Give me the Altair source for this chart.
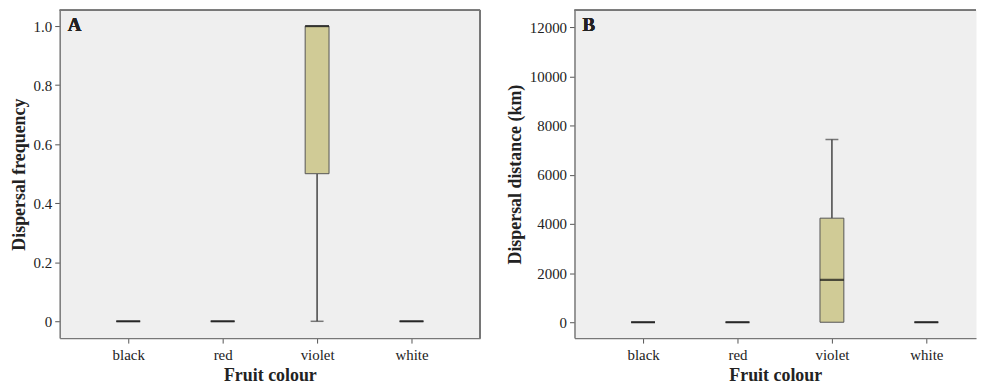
import altair as alt
import pandas as pd

categories = ["black", "red", "violet", "white"]

# Panel A: dispersal frequency
freq_lower = [0, 0, 0.0, 0]
freq_q1 = [0, 0, 0.5, 0]
freq_median = [0, 0, 1.0, 0]
freq_q3 = [0, 0, 1.0, 0]
freq_upper = [0, 0, 1.0, 0]

# Panel B: dispersal distance (km)
dist_lower = [0, 0, 0, 0]
dist_q1 = [0, 0, 0, 0]
dist_median = [0, 0, 1720, 0]
dist_q3 = [0, 0, 4230, 0]
dist_upper = [0, 0, 7430, 0]

freq_ticks = [0, 0.2, 0.4, 0.6, 0.8, 1.0]
dist_ticks = [0, 2000, 4000, 6000, 8000, 10000, 12000]

FONT = "Liberation Serif"
BOX_FILL = "#D0CB96"
BORDER = "#777777"


def panel(lower, q1, med, q3, upper, domain, ticks, ytitle, label_expr,
          letter, width, pad, align, right_border):
    df = pd.DataFrame({"cat": categories, "lower": lower, "q1": q1,
                       "median": med, "q3": q3, "upper": upper})
    x = alt.X("cat:N", sort=categories, title="Fruit colour",
              scale=alt.Scale(type="point", padding=pad, align=align),
              axis=alt.Axis(labelAngle=0))
    yscale = alt.Scale(domain=domain, nice=False, zero=False)
    base = alt.Chart(df)

    lo = df[df["lower"] < df["q1"]]
    hi = df[df["upper"] > df["q3"]]
    caps = pd.concat([
        pd.DataFrame({"cat": lo["cat"], "v": lo["lower"]}),
        pd.DataFrame({"cat": hi["cat"], "v": hi["upper"]}),
    ])

    whisk_lo = base.mark_rule(color="#444444", strokeWidth=1.5).encode(
        x=x,
        y=alt.Y("lower:Q", scale=yscale, title=ytitle,
                axis=alt.Axis(values=ticks, labelExpr=label_expr)),
        y2="q1:Q")
    whisk_hi = base.mark_rule(color="#444444", strokeWidth=1.5).encode(
        x=x, y=alt.Y("q3:Q", scale=yscale), y2="upper:Q")
    cap = alt.Chart(caps).mark_tick(color="#444444", size=13, thickness=1.5,
                                    orient="horizontal").encode(
        x=x, y=alt.Y("v:Q", scale=yscale))
    box = base.mark_bar(size=24, fill=BOX_FILL, stroke="#555555",
                        strokeWidth=1).encode(
        x=x, y=alt.Y("q1:Q", scale=yscale), y2="q3:Q")
    median = base.mark_tick(color="#111111", size=24, thickness=2.2,
                            orient="horizontal").encode(
        x=x, y=alt.Y("median:Q", scale=yscale))
    text = base.mark_text(text=letter, font=FONT, fontSize=19,
                          fontWeight="bold", align="left", baseline="middle",
                          color="#222222").encode(
        x=alt.value(8), y=alt.value(15))
    top = base.mark_rule(color=BORDER, strokeWidth=1.5).encode(
        x=alt.value(0), x2=alt.value(width), y=alt.value(0))
    layers = [whisk_lo, whisk_hi, cap, box, median, text, top]
    if right_border:
        layers.append(base.mark_rule(color=BORDER, strokeWidth=1.5).encode(
            x=alt.value(width), y=alt.value(0), y2=alt.value(330)))
    return alt.layer(*layers).properties(
        width=width, height=330,
        view=alt.ViewBackground(fill="#EFEFEF", strokeOpacity=0))


left = panel(freq_lower, freq_q1, freq_median, freq_q3, freq_upper,
             [-0.057, 1.054], freq_ticks, "Dispersal frequency",
             "datum.value == 0 ? '0' : format(datum.value, '.1f')", "A",
             423, 0.726, 0.5, True)
right = panel(dist_lower, dist_q1, dist_median, dist_q3, dist_upper,
              [-646, 12687], dist_ticks, "Dispersal distance (km)",
              "format(datum.value, 'd')", "B",
              404, 0.626, 0.58, False)

chart = alt.hconcat(left, right, spacing=25).properties(
    padding={"left": 2, "top": 0, "right": 0, "bottom": 0}
).configure_axis(
    labelFont=FONT, labelFontSize=15, labelColor="#222222",
    titleFont=FONT, titleFontSize=18, titleFontWeight="bold",
    titleColor="#222222", grid=False, domainColor=BORDER,
    domainWidth=1.5, tickColor="#555555", tickSize=5, labelPadding=3
).configure_axisX(
    labelPadding=5, titlePadding=4
).configure_axisY(
    titlePadding=5
)

chart.save("out.html", embed_options={"renderer": "svg", "actions": False})
